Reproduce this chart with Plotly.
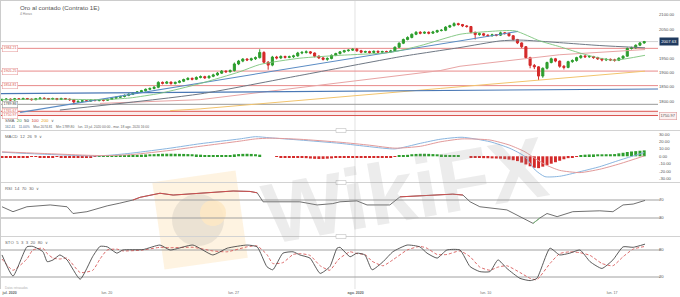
import math
import plotly.graph_objects as go

# ---------------- data ----------------
closes = [1806,1808,1805,1809,1807,1810,1808,1806,1809,1811,
          1810,1808,1810,1807,1810,1808,1806,1798,1800,1802,
          1801,1804,1803,1805,1804,1807,1811,1814,1817,1821,
          1825,1829,1833,1837,1842,1845,1849,1866,1863,1867,
          1862,1866,1870,1876,1880,1877,1883,1886,1882,1887,
          1892,1898,1905,1903,1907,1930,1940,1947,1944,1948,
          1952,1970,1936,1926,1954,1951,1956,1953,1955,1958,
          1968,1970,1972,1968,1957,1951,1946,1949,1960,1966,
          1972,1976,1978,1981,1976,1971,1973,1970,1974,1971,
          1973,1972,1975,1988,2002,2015,2022,2033,2040,2037,
          2040,2037,2041,2046,2047,2058,2063,2070,2067,2062,
          2060,2040,2032,2035,2030,2028,2031,2030,2038,2036,
          2028,2015,2003,1990,1952,1925,1920,1888,1915,1935,
          1948,1940,1922,1918,1938,1942,1952,1958,1955,1956,
          1952,1948,1944,1946,1944,1943,1950,1957,1984,1986,
          1995,2003,2007.63]
first_open = 1805
highs = [1810,1811,1810,1812,1811,1813,1812,1810,1812,1815,
         1814,1812,1813,1812,1813,1812,1810,1808,1804,1806,
         1805,1807,1807,1808,1808,1810,1814,1817,1820,1824,
         1828,1832,1836,1840,1845,1848,1853,1870,1869,1871,
         1869,1869,1874,1879,1884,1883,1887,1890,1889,1891,
         1896,1902,1909,1908,1911,1935,1944,1950,1950,1952,
         1956,1981,1974,1940,1958,1958,1960,1959,1959,1962,
         1972,1975,1977,1975,1970,1960,1954,1953,1963,1969,
         1975,1979,1981,1984,1985,1979,1976,1976,1977,1977,
         1976,1976,1979,1991,2005,2018,2026,2036,2044,2044,
         2043,2043,2045,2049,2051,2061,2066,2074.81,2073,2069,
         2065,2062,2042,2039,2038,2033,2035,2034,2042,2041,
         2039,2030,2017,2005,1992,1955,1930,1922,1918,1938,
         1952,1951,1942,1926,1941,1946,1955,1962,1960,1960,
         1958,1955,1951,1950,1949,1948,1953,1960,1987,1990,
         1998,2006,2010]
lows = [1802,1804,1802,1803,1805,1805,1805,1803,1804,1807,
        1807,1805,1806,1804,1805,1805,1802,1789.8,1795,1797,
        1798,1799,1800,1800,1800,1802,1805,1808,1811,1814,
        1818,1822,1826,1830,1834,1839,1842,1846,1859,1860,
        1858,1859,1863,1867,1873,1873,1874,1880,1878,1879,
        1884,1889,1895,1899,1900,1904,1926,1936,1940,1940,
        1944,1949,1932,1910,1922,1946,1947,1949,1950,1951,
        1955,1964,1966,1964,1953,1947,1942,1941,1946,1957,
        1963,1969,1973,1975,1972,1967,1968,1966,1967,1968,
        1968,1968,1969,1972,1985,1999,2012,2019,2030,2033,
        2034,2033,2034,2038,2043,2044,2055,2060,2063,2058,
        2056,2036,2015,2028,2026,2024,2025,2026,2027,2032,
        2025,2011,1999,1985,1947,1915,1912,1874,1882,1911,
        1932,1936,1917,1911,1915,1934,1938,1948,1951,1951,
        1948,1944,1939,1940,1940,1938,1940,1947,1955,1980,
        1983,1992,2000]

x_tick_idx = [1.8, 24.8, 54.8, 83.7, 114.5, 144.4]
x_tick_txt = ["<b>jul. 2020</b>", "lun. 20", "lun. 27", "<b>ago. 2020</b>", "lun. 10", "lun. 17"]
month_idx = 83.55

sma20_idx = [0, 12, 24, 30.3, 37.4, 46.9, 56.3, 61, 70.5, 80, 91.8, 98.9, 108.4, 115.5, 121.4, 127.3, 132, 136.8, 141.5, 145, 152.2]
sma20_val = [1806, 1808, 1806, 1812, 1828, 1862, 1903, 1928, 1950, 1960, 1970, 1993, 2033, 2043, 2045, 2010, 1990, 1968, 1950, 1943, 1960]
sma50_idx = [13.7, 46.9, 70.5, 94.2, 108.4, 117.9, 122.6, 132, 141.5, 152.2]
sma50_val = [1770, 1826, 1890, 1955, 1987, 2010, 2013, 2004, 1994, 1986]
sma100_idx = [23.2, 46.9, 103.7, 108.4, 132, 148, 152.2]
sma100_val = [1793, 1806, 1907, 1922, 1962, 1977, 1980]
sma200_idx = [39.8, 46.9, 103.7, 152.2]
sma200_val = [1768, 1774, 1845, 1905]
trend_idx = [4.3, 122.1]
trend_val = [1762, 2043]
flat_idx = [-0.47, 155.27]
flat_val = [1827, 1843]

levels_red = [1984.21, 1905.25, 1854.81]
level_gray = 1789.86
levels_strong = [1765.67, 1750.97]
last_price = 2007.63

macd_hist = [-1.4,-1.5,-1.6,-1.5,-1.3,
             -1.1,-1.0,-0.9,-0.9,-1.0,-1.0,-1.1,-1.0,-0.9,-1.0,-1.1,
             -1.4,-1.8,-1.9,-1.8,-1.6,-1.2,
             -0.4,0.3,
             0.8,1.0,1.2,1.3,1.5,1.6,1.8,1.9,2.0,2.2,
             2.5,2.7,2.9,3.2,3.4,3.5,3.5,3.4,3.3,3.2,3.0,2.8,2.5,2.2,
             1.5,1.3,1.2,1.2,1.3,1.5,1.8,
             2.6,3.0,3.3,3.4,3.2,2.8,2.2,
             0.0,0.0,0.0,
             -0.8,-1.0,-1.1,-1.2,-1.3,-1.4,-1.5,
             -2.5,-3.0,-3.4,-3.6,-3.5,-3.2,-2.8,
             -2.0,-1.8,-1.6,-1.5,-1.5,-1.6,-1.7,-1.8,-1.8,-1.7,-1.6,-1.5,-1.3,-1.0,-0.6,
             0.5,1.2,2.0,
             2.8,3.2,3.4,3.4,3.3,3.0,2.7,
             2.3,2.0,1.8,1.5,1.2,
             0.0,0.0,
             -1.5,-2.0,-2.3,-2.5,-2.6,-2.8,-3.0,-3.2,
             -3.8,-4.5,-5.3,-6.5,
             -8.5,-11.0,-13.5,-15.5,-16.0,
             -14.0,-12.0,-10.0,-8.0,-6.0,-4.0,
             -2.5,-1.2,-0.4,
             1.8,2.2,2.5,2.6,2.7,2.7,2.8,2.8,3.0,
             4.0,4.8,5.8,6.5,7.0,7.5,8.0]
macd_idx = [0, 9, 21.5, 25.6, 31, 39.8, 46.9, 56.3, 60, 63.4, 70.5, 80, 87, 93, 99, 103.7, 108.9,
            115.5, 120.2, 123.8, 126.2, 128.5, 132, 136.8, 141.5, 146.3, 152]
macd_line = [5.5, 3, 0.5, 1.5, 4.5, 11, 17, 23.5, 26.5, 25, 22, 17.5, 13, 10, 17.5, 23, 25.7,
             19.7, 10.8, -0.5, -18.5, -27.5, -27, -20.8, -14, -5, 5]
macd_signal = [6, 4, 1.2, 1, 2.5, 8, 13.5, 20.5, 23.5, 24.5, 23, 19, 15, 11, 13.5, 19.5, 23.5,
               22, 15, 6, -3, -11, -19, -22, -17.5, -10, 0.5]
macd_ticks = [30, 20, 10, 0, -10, -20, -30]

rsi_idx = [0, 2.6, 5.9, 11.4, 15.4, 16.8, 20.1, 24.9, 27.9, 31, 32.7, 37.4, 40.5, 43.8, 49.9, 54.7,
           58.7, 60.4, 61.8, 65.8, 70.5, 74.6, 78.3, 80, 84, 86.4, 91.8, 94.2, 99.6, 106.7, 109.1,
           110.8, 113.1, 117.2, 119.5, 122.6, 125.7, 127.3, 129, 131.4, 135.1, 141.5, 144.6, 147,
           149.4, 152.2]
rsi_val = [55, 44, 55, 59, 55, 40, 44, 57, 63, 70, 76, 85, 81, 83, 87, 90, 89, 86, 66, 66, 66, 59,
           62, 66, 68, 59, 59, 77, 79, 83, 81, 66, 55, 51, 48, 33, 18, 30, 40, 33, 44, 46, 44, 59,
           61, 69]
rsi_levels = [70, 30]

sto_idx = [0, 2.6, 5.9, 7.3, 9.7, 10.7, 12.1, 13.7, 15.4, 18.5, 21.5, 23.2, 24.9, 27.2, 28.6, 33.4,
           37.4, 39.8, 45.2, 49.9, 53.3, 58, 60.4, 62.7, 64.1, 66.5, 68.9, 70.5, 72.9, 75.3, 77.6,
           79.3, 80, 82.4, 84, 85.9, 87.6, 90.2, 92.5, 95.9, 98.9, 100.6, 103, 105.3, 108.4, 110.8,
           113.1, 115.5, 117.4, 119.5, 122.6, 125, 126.6, 129.7, 132, 134.4, 136.8, 139.2, 142,
           144.6, 147, 149.4, 152.2]
sto_k = [69, 22, 87, 88, 76, 54, 58, 69, 58, 15, 66, 88, 87, 73, 80, 81, 91, 80, 91, 69, 84, 91, 87,
         43, 36, 73, 76, 69, 62, 28, 43, 84, 86, 65, 73, 69, 36, 54, 76, 91, 87, 73, 62, 80, 80, 43,
         32, 32, 58, 39, 17, 12, 17, 84, 69, 73, 80, 54, 39, 58, 87, 86, 93]
sto_d = [60, 35, 60, 80, 84, 72, 62, 60, 62, 30, 35, 60, 80, 82, 78, 80, 86, 85, 86, 78, 76, 87, 89,
         70, 50, 52, 70, 72, 68, 45, 35, 55, 62, 76, 72, 70, 55, 45, 58, 80, 88, 84, 70, 70, 78, 65,
         42, 35, 42, 45, 30, 17, 14, 50, 72, 76, 74, 68, 50, 45, 65, 82, 88]
sto_levels = [80, 20]

price_ticks = [1800, 1850, 1900, 1950, 2050, 2100]

# ---------------- geometry / style ----------------
W, H = 680, 297
MR, MB = 22, 8
PW, PH = W - MR, H - MB
FONT = "Liberation Sans"
GREEN = "#2e9e2e"
RED = "#d42a2a"
XR = [-0.47, 155.27]


def pxx(x):
    return x / PW


def pxy(y):
    return (PH - y) / PH


fig = go.Figure()

# moving averages / trend lines (main)
fig.add_trace(go.Scatter(x=sma200_idx, y=sma200_val, mode="lines", line=dict(color="#f2c46d", width=1), xaxis="x", yaxis="y"))
fig.add_trace(go.Scatter(x=sma100_idx, y=sma100_val, mode="lines", line=dict(color="#e8a4a4", width=1), xaxis="x", yaxis="y"))
fig.add_trace(go.Scatter(x=flat_idx, y=flat_val, mode="lines", line=dict(color="#4a78b5", width=1.1), xaxis="x", yaxis="y"))
fig.add_trace(go.Scatter(x=sma50_idx, y=sma50_val, mode="lines", line=dict(color="#6f7884", width=1, shape="spline", smoothing=0.6), xaxis="x", yaxis="y"))
fig.add_trace(go.Scatter(x=trend_idx, y=trend_val, mode="lines", line=dict(color="#5b8cc4", width=1.1), xaxis="x", yaxis="y"))
fig.add_trace(go.Scatter(x=sma20_idx, y=sma20_val, mode="lines", line=dict(color="#7cc47c", width=0.9, shape="spline", smoothing=0.6), xaxis="x", yaxis="y"))

opens = [first_open] + closes[:-1]
idx = list(range(len(closes)))
fig.add_trace(go.Candlestick(
    x=idx, open=opens, high=highs, low=lows, close=closes, xaxis="x", yaxis="y",
    increasing=dict(line=dict(color=GREEN, width=1), fillcolor=GREEN),
    decreasing=dict(line=dict(color=RED, width=1), fillcolor=RED),
    whiskerwidth=0))

# MACD
hidx = list(range(len(macd_hist)))
fig.add_trace(go.Bar(x=hidx, y=macd_hist, width=0.7,
                     marker=dict(color=[GREEN if v >= 0 else RED for v in macd_hist], line=dict(width=0)),
                     xaxis="x2", yaxis="y2"))
fig.add_trace(go.Scatter(x=macd_idx, y=macd_line, mode="lines", line=dict(color="#8ab6e0", width=1, shape="spline", smoothing=0.6), xaxis="x2", yaxis="y2"))
fig.add_trace(go.Scatter(x=macd_idx, y=macd_signal, mode="lines", line=dict(color="#e29a9a", width=1, shape="spline", smoothing=0.6), xaxis="x2", yaxis="y2"))

# RSI
fig.add_trace(go.Scatter(x=rsi_idx, y=rsi_val, mode="lines", line=dict(color="#606060", width=0.9), xaxis="x3", yaxis="y3"))
fig.add_trace(go.Scatter(x=rsi_idx, y=[v if v >= rsi_levels[0] else None for v in rsi_val], mode="lines",
                         line=dict(color="#d84848", width=0.9), xaxis="x3", yaxis="y3"))
fig.add_trace(go.Scatter(x=rsi_idx, y=[v if v <= rsi_levels[1] else None for v in rsi_val], mode="lines",
                         line=dict(color="#7cc07c", width=0.9), xaxis="x3", yaxis="y3"))

# STO
fig.add_trace(go.Scatter(x=sto_idx, y=sto_d, mode="lines", line=dict(color="#d85a5a", width=0.9, dash="3px,2px", shape="spline", smoothing=0.5), xaxis="x4", yaxis="y4"))
fig.add_trace(go.Scatter(x=sto_idx, y=sto_k, mode="lines", line=dict(color="#484848", width=0.9, shape="spline", smoothing=0.5), xaxis="x4", yaxis="y4"))

# ---------------- shapes ----------------
shapes = []
def rot_rect_path(cx, cy, hw, hh, ang):
    a = math.radians(ang)
    pts = []
    for dx, dy in [(-hw, -hh), (hw, -hh), (hw, hh), (-hw, hh)]:
        rx = cx + dx * math.cos(a) - dy * math.sin(a)
        ry = cy + dx * math.sin(a) + dy * math.cos(a)
        pts.append(f"{pxx(rx):.4f},{pxy(ry):.4f}")
    return "M " + " L ".join(pts) + " Z"

# watermark logo (below everything)
shapes.append(dict(type="path", xref="paper", yref="paper", path=rot_rect_path(200, 220, 42, 44, -8),
                   fillcolor="rgba(252,210,140,0.26)", line=dict(width=0), layer="below"))
shapes.append(dict(type="circle", xref="paper", yref="paper", x0=pxx(172), x1=pxx(224), y0=pxy(246), y1=pxy(194),
                   fillcolor="rgba(150,150,150,0.18)", line=dict(width=0), layer="below"))
shapes.append(dict(type="circle", xref="paper", yref="paper", x0=pxx(200), x1=pxx(226), y0=pxy(226), y1=pxy(200),
                   fillcolor="rgba(253,232,196,0.9)", line=dict(width=0), layer="below"))

# month separator
shapes.append(dict(type="line", xref="x", yref="paper", x0=month_idx, x1=month_idx, y0=0, y1=1,
                   line=dict(color="#e2e2e2", width=1), layer="below"))
# price level lines
shapes.append(dict(type="rect", xref="paper", yref="y", x0=0, x1=1, y0=levels_strong[1], y1=levels_strong[0],
                   fillcolor="rgba(235,140,140,0.18)", line=dict(width=0), layer="below"))
for v in levels_red:
    shapes.append(dict(type="line", xref="paper", yref="y", x0=0, x1=1, y0=v, y1=v,
                       line=dict(color="#e88a8a", width=1), layer="below"))
for v in levels_strong:
    shapes.append(dict(type="line", xref="paper", yref="y", x0=0, x1=1, y0=v, y1=v,
                       line=dict(color="#d9534f", width=1), layer="below"))
shapes.append(dict(type="line", xref="paper", yref="y", x0=0, x1=1, y0=level_gray, y1=level_gray,
                   line=dict(color="#9a9a9a", width=1), layer="below"))
shapes.append(dict(type="line", xref="paper", yref="y", x0=0, x1=1, y0=last_price, y1=last_price,
                   line=dict(color="#d0d0d0", width=1), layer="below"))
# indicator reference lines
for v in rsi_levels:
    shapes.append(dict(type="line", xref="paper", yref="y3", x0=0, x1=1.004, y0=v, y1=v,
                       line=dict(color="#a0a0a0", width=1), layer="below"))
for v in sto_levels:
    shapes.append(dict(type="line", xref="paper", yref="y4", x0=0, x1=1.004, y0=v, y1=v,
                       line=dict(color="#a0a0a0", width=1), layer="below"))
# panel separators + handles + borders
XEND = W / PW
for yy in [130.5, 182.5, 236.5]:
    shapes.append(dict(type="line", xref="paper", yref="paper", x0=0, x1=XEND, y0=pxy(yy), y1=pxy(yy),
                       line=dict(color="#d2d2d2", width=1)))
    shapes.append(dict(type="rect", xref="paper", yref="paper", x0=pxx(336), x1=pxx(346), y0=pxy(yy + 2), y1=pxy(yy - 2),
                       fillcolor="white", line=dict(color="#c0c0c0", width=0.6)))
shapes.append(dict(type="line", xref="paper", yref="paper", x0=0, x1=XEND, y0=pxy(0.5), y1=pxy(0.5),
                   line=dict(color="#cccccc", width=1)))
shapes.append(dict(type="line", xref="paper", yref="paper", x0=pxx(0.5), x1=pxx(0.5), y0=pxy(PH), y1=1,
                   line=dict(color="#cccccc", width=1)))

# ---------------- annotations ----------------
ann = []
def txt(x, y, s, size, color="#555", **kw):
    d = dict(xref="paper", yref="paper", x=pxx(x), y=pxy(y), text=s, showarrow=False, xanchor="left",
             yanchor="middle", font=dict(size=size, color=color, family=FONT))
    d.update(kw)
    ann.append(d)

txt(18, 7, "Oro al contado (Contrato 1E)", 6.2, "#555")
txt(18, 14, "4 Horas", 3.4, "#888")
txt(3, 120.5, "SMA  <span style='color:#3aa03a'>20</span>  <span style='color:#2a3340'>50</span>  "
              "<span style='color:#d04040'>100</span>  <span style='color:#e8a020'>200</span>  ∨", 4.4, "#666")
txt(3, 127, "<span style='color:#4a6a8a'>162.41</span>    <span style='color:#4a6a8a'>11.00%</span>    "
            "Max 2074.81    Min 1789.80    lun. 13 jul. 2020 00:00 - mar. 18 ago. 2020 16:00", 3.3, "#666")
txt(3, 136, "MACD  12  26  9  ∨", 4.3, "#666")
txt(3, 188, "RSI  14  70  30  ∨", 4.3, "#666")
txt(3, 242, "STO  5  3  3  20  80  ∨", 4.3, "#666")
txt(3, 287.5, "Datos retrasados", 3.0, "#b0b0b0")

# watermark text
ann.append(dict(xref="paper", yref="paper", x=pxx(405), y=pxy(190), text="<b>WikiFX</b>", showarrow=False,
                textangle=-10, font=dict(size=86, color="rgba(150,150,150,0.18)", family=FONT)))

# level labels (left)
for v in levels_red + levels_strong:
    ann.append(dict(xref="paper", yref="y", x=pxx(2), y=v, text=f"{v:.2f}", showarrow=False, xanchor="left",
                    yanchor="middle", bgcolor="white", bordercolor="#e8a3a3", borderwidth=0.6, borderpad=0.8,
                    font=dict(size=3.6, color="#d9534f", family=FONT)))
ann.append(dict(xref="paper", yref="y", x=pxx(2), y=level_gray, text=f"{level_gray:.2f}", showarrow=False,
                xanchor="left", yanchor="middle", bgcolor="white", bordercolor="#999", borderwidth=0.6,
                borderpad=0.8, font=dict(size=3.6, color="#333", family=FONT)))
# right labels
ann.append(dict(xref="paper", yref="y", x=1.0, xshift=1, y=last_price, text=f"{last_price:.2f}", showarrow=False,
                xanchor="left", yanchor="middle", bgcolor="#1f3a5f", borderpad=1.2,
                font=dict(size=4.2, color="white", family=FONT)))
ann.append(dict(xref="paper", yref="y", x=1.0, xshift=1, y=levels_strong[1], text=f"{levels_strong[1]:.2f}",
                showarrow=False, xanchor="left", yanchor="middle", bgcolor="#fdf1f1", bordercolor="#d99",
                borderwidth=0.6, borderpad=0.8, font=dict(size=4.0, color="#555", family=FONT)))

# ---------------- layout ----------------
xcommon = dict(range=XR, showgrid=False, zeroline=False, showline=False, ticks="", fixedrange=True)
ycommon = dict(side="right", showgrid=False, zeroline=False, showline=False, ticks="", fixedrange=True,
               tickfont=dict(size=4.2, color="#555", family=FONT))

fig.update_layout(
    width=W, height=H, margin=dict(l=0, r=MR, t=0, b=MB),
    paper_bgcolor="white", plot_bgcolor="rgba(0,0,0,0)", showlegend=False,
    font=dict(family=FONT),
    xaxis=dict(domain=[0, 1], anchor="y", showticklabels=False, rangeslider=dict(visible=False), **xcommon),
    xaxis2=dict(domain=[0, 1], anchor="y2", showticklabels=False, **xcommon),
    xaxis3=dict(domain=[0, 1], anchor="y3", showticklabels=False, **xcommon),
    xaxis4=dict(domain=[0, 1], anchor="y4", showticklabels=True, tickvals=x_tick_idx, ticktext=x_tick_txt,
                tickfont=dict(size=3.6, color="#666", family=FONT), **xcommon),
    yaxis=dict(domain=[pxy(130), 1], anchor="x", range=[1700.69, 2152.08], tickvals=price_ticks,
               ticktext=[f"{v:.2f}" for v in price_ticks], **ycommon),
    yaxis2=dict(domain=[pxy(182), pxy(131)], anchor="x2", range=[-34.73, 34.19], tickvals=macd_ticks,
                ticktext=[f"{v:.2f}" for v in macd_ticks], **ycommon),
    yaxis3=dict(domain=[pxy(236), pxy(183)], anchor="x3", range=[-10, 107.78], tickvals=rsi_levels,
                ticktext=[str(v) for v in rsi_levels], **ycommon),
    yaxis4=dict(domain=[0, pxy(237)], anchor="x4", range=[-6.67, 108.89], tickvals=sto_levels,
                ticktext=[str(v) for v in sto_levels], **ycommon),
    shapes=shapes, annotations=ann, bargap=0.3,
)

fig.write_html("out.html")
